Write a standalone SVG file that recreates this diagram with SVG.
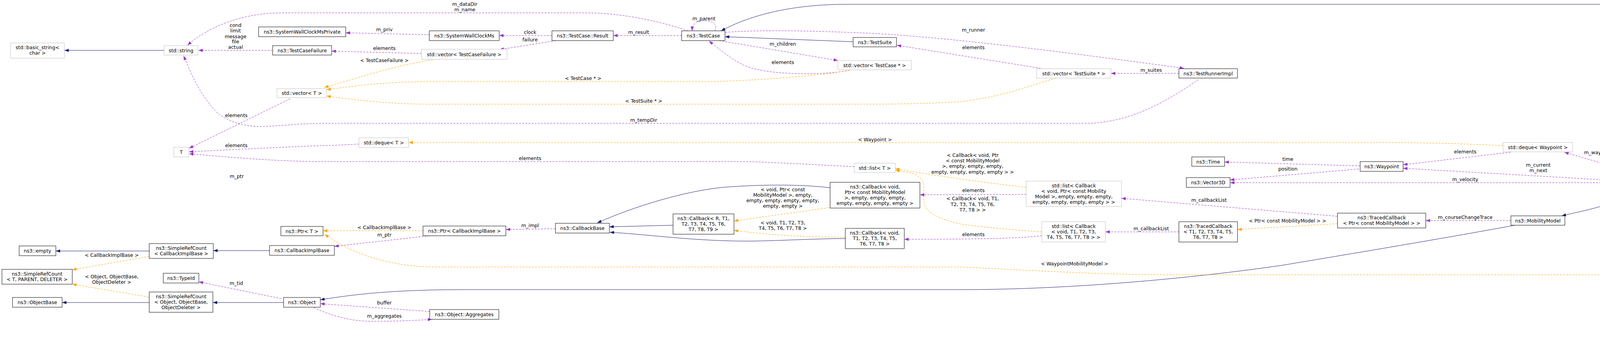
<svg xmlns="http://www.w3.org/2000/svg" width="4931" height="871" viewBox="0 0 4931 871">
<style>
text{font-family:"DejaVu Sans","Liberation Sans",sans-serif;font-size:12.4px;fill:#000;text-anchor:middle}
.b rect{fill:#fff;stroke:#000;stroke-width:1}
.g rect{fill:#fff;stroke:#bfbfbf;stroke-width:1}
.h rect{fill:#bfbfbf;stroke:#000;stroke-width:1}
.e path{fill:none;stroke-width:1}
.e .n{stroke:#191970;marker-end:url(#mn)}
.e .p{stroke:#9a32cd;stroke-dasharray:5,3;marker-end:url(#mp)}
.e .o{stroke:#ffa500;stroke-dasharray:5,3;marker-end:url(#mo)}
</style>
<defs>
<marker id="mn" markerUnits="userSpaceOnUse" markerWidth="11" markerHeight="8" refX="11" refY="4" orient="auto"><path d="M0,0L11,4L0,8z" fill="#191970"/></marker>
<marker id="mp" markerUnits="userSpaceOnUse" markerWidth="11" markerHeight="8" refX="11" refY="4" orient="auto"><path d="M0,0L11,4L0,8z" fill="#9a32cd"/></marker>
<marker id="mo" markerUnits="userSpaceOnUse" markerWidth="11" markerHeight="8" refX="11" refY="4" orient="auto"><path d="M0,0L11,4L0,8z" fill="#ffa500"/></marker>
</defs>
<rect width="4931" height="871" fill="#fff"/>
<g id="edges" class="e">
<path class="n" d="M420,129 L165,129"/>
<path class="p" d="M1762,79 C1700,58 1600,33 1500,33 L720,33 C620,33 530,70 480,116"/>
<path class="p" d="M698,129 L508,129"/>
<path class="p" d="M1099,89 L885,84"/>
<path class="p" d="M1079,137 L849,131"/>
<path class="p" d="M1413,91 L1278,91"/>
<path class="p" d="M1423,104 L1279,127"/>
<path class="p" d="M1745,91 L1570,91"/>
<path class="p" d="M1830,79 C1838,60 1822,53 1800,53 C1782,53 1772,62 1772,79"/>
<path class="n" d="M2184,107 L1856,94"/>
<path class="p" d="M1841,104 L2145,155"/>
<path class="p" d="M2175,180 C2100,195 1950,192 1900,165 C1870,150 1840,125 1815,105"/>
<path class="o" d="M2175,180 C2100,195 1900,209 1800,209 L1100,209 C1000,209 900,220 836,230"/>
<path class="o" d="M2703,200 C2620,225 2560,249 2460,260 C2400,265 2300,267 2200,267 L1100,267 C1000,267 900,255 836,246"/>
<path class="o" d="M1108,153 C1000,170 900,205 830,224"/>
<path class="p" d="M743,253 L484,380"/>
<path class="p" d="M1857,83 C1950,75 2100,80 2200,84 C2400,92 2700,130 3031,175"/>
<path class="p" d="M2664,175 L2296,116"/>
<path class="p" d="M3018,188 L2844,188"/>
<path class="p" d="M3068,204 C3000,250 2900,316 2777,316 L830,316 C760,316 700,325 656,324 C600,320 570,300 555,288 C510,240 490,190 470,143"/>
<path class="p" d="M919,369 C880,371 850,373 820,373 C700,378 560,385 484,389"/>
<path class="o" d="M3848,373 C3700,366 3600,365 3500,365 L1046,365"/>
<path class="p" d="M2187,427 C2050,420 1950,414 1900,414 L830,414 C700,414 560,400 484,394"/>
<path class="o" d="M2627,480 C2500,465 2380,448 2292,432"/>
<path class="o" d="M2667,594 C2600,590 2500,580 2460,574 C2400,560 2365,545 2365,510 C2365,475 2370,460 2340,445 L2292,436"/>
<path class="p" d="M2627,498 L2355,499"/>
<path class="p" d="M2667,604 C2600,612 2450,613 2315,613"/>
<path class="n" d="M2125,481 C2050,472 1950,472 1850,480 C1750,490 1620,530 1529,571"/>
<path class="n" d="M1723,577 L1560,581"/>
<path class="n" d="M2164,611 C2050,612 1950,620 1867,617 C1750,614 1650,600 1561,595"/>
<path class="o" d="M2122,532 L1879,566"/>
<path class="o" d="M2164,608 C2050,607 1950,600 1879,590"/>
<path class="p" d="M1422,586 L1295,588"/>
<path class="o" d="M1083,591 L827,591"/>
<path class="p" d="M1100,604 L856,631"/>
<path class="n" d="M690,642 L546,642"/>
<path class="n" d="M382,643 L143,643"/>
<path class="o" d="M382,657 L185,691"/>
<path class="o" d="M381,761 L185,728"/>
<path class="n" d="M382,775 L159,775"/>
<path class="n" d="M726,775 L545,775"/>
<path class="p" d="M720,765 L509,722"/>
<path class="p" d="M1100,798 L820,778"/>
<path class="p" d="M804,788 C850,810 900,823 950,823 C1000,823 1050,822 1106,818"/>
<path class="n" d="M3878,577 C3700,610 3400,660 3280,680 C3000,720 2700,742 2460,742 L1190,742 C1000,742 900,755 820,768"/>
<path class="n" d="M4230,482 C4190,500 4150,515 4100,528 C4060,540 4030,545 3998,553"/>
<path class="p" d="M3868,565 L3650,565"/>
<path class="o" d="M3424,573 L3168,588"/>
<path class="p" d="M3423,554 L2871,508"/>
<path class="p" d="M3018,594 L2830,594"/>
<path class="p" d="M3482,425 L3135,415"/>
<path class="p" d="M3478,433 L3149,461"/>
<path class="p" d="M4163,468 L3149,468"/>
<path class="p" d="M4163,464 L3592,431"/>
<path class="p" d="M3867,390 L3592,422"/>
<path class="p" d="M4230,456 L4005,390"/>
<path class="p" d="M4450,470 L4359,470"/>
<path class="o" d="M4530,495 C4490,560 4420,704 4275,704 L3000,704 C2800,704 2600,690 2460,684 L1116,684 C1000,684 900,650 831,600"/>
<path class="p" d="M4817,169 L4566,450"/>
<path class="n" d="M4812,129 C4740,70 4650,11 4555,11 L2169,11 C2000,11 1900,50 1846,79"/>
</g>
<g id="edge-labels">
<text x="1190" y="15">m_dataDir</text><text x="1190" y="29">m_name</text>
<text x="603" y="69">cond</text><text x="603" y="83">limit</text><text x="603" y="98">message</text><text x="603" y="111">file</text><text x="603" y="125">actual</text>
<text x="984" y="80">m_priv</text>
<text x="984" y="128">elements</text>
<text x="1357" y="87">clock</text>
<text x="1357" y="106">failure</text>
<text x="1635" y="87">m_result</text>
<text x="1802" y="52">m_parent</text>
<text x="2004" y="117">m_children</text>
<text x="2004" y="164">elements</text>
<text x="1493" y="205">&lt; TestCase * &gt;</text>
<text x="1648" y="263">&lt; TestSuite * &gt;</text>
<text x="984" y="159">&lt; TestCaseFailure &gt;</text>
<text x="605" y="300">elements</text>
<text x="2492" y="81">m_runner</text>
<text x="2492" y="126">elements</text>
<text x="2947" y="184">m_suites</text>
<text x="1648" y="312">m_tempDir</text>
<text x="605" y="377">elements</text>
<text x="2240" y="362">&lt; Waypoint &gt;</text>
<text x="1357" y="410">elements</text>
<text x="2490" y="402">&lt; Callback&lt; void, Ptr</text><text x="2490" y="416">&lt; const MobilityModel</text><text x="2490" y="430">&gt;, empty, empty, empty,</text><text x="2490" y="445">empty, empty, empty, empty &gt; &gt;</text>
<text x="2490" y="513">&lt; Callback&lt; void, T1,</text><text x="2490" y="528">T2, T3, T4, T5, T6,</text><text x="2490" y="542">T7, T8 &gt; &gt;</text>
<text x="2492" y="492">elements</text>
<text x="2492" y="605">elements</text>
<text x="2004" y="490">&lt; void, Ptr&lt; const</text><text x="2004" y="504">MobilityModel &gt;, empty,</text><text x="2004" y="518">empty, empty, empty, empty,</text><text x="2004" y="532">empty, empty &gt;</text>
<text x="2004" y="575">&lt; void, T1, T2, T3,</text><text x="2004" y="589">T4, T5, T6, T7, T8 &gt;</text>
<text x="1357" y="582">m_impl</text>
<text x="984" y="587">&lt; CallbackImplBase &gt;</text>
<text x="984" y="606">m_ptr</text>
<text x="286" y="658">&lt; CallbackImplBase &gt;</text>
<text x="286" y="713">&lt; Object, ObjectBase,</text><text x="286" y="727">ObjectDeleter &gt;</text>
<text x="605" y="730">m_tid</text>
<text x="984" y="780">buffer</text>
<text x="984" y="814">m_aggregates</text>
<text x="3751" y="561">m_courseChangeTrace</text>
<text x="3296" y="570">&lt; Ptr&lt; const MobilityModel &gt; &gt;</text>
<text x="3095" y="517">m_callbackList</text>
<text x="2947" y="590">m_callbackList</text>
<text x="3297" y="412">time</text>
<text x="3297" y="437">position</text>
<text x="3751" y="464">m_velocity</text>
<text x="3938" y="427">m_current</text><text x="3938" y="441">m_next</text>
<text x="3751" y="393">elements</text>
<text x="4096" y="395">m_waypoints</text>
<text x="4406" y="465">m_ptr</text>
<text x="2751" y="680">&lt; WaypointMobilityModel &gt;</text>
<text x="4697" y="210">m_mob1</text><text x="4697" y="225">m_mob2</text><text x="4697" y="238">m_mob3</text><text x="4697" y="252">m_mob4</text><text x="4697" y="266">m_mob5</text>
<text x="606" y="456">m_ptr</text>
</g>
<g id="n1" class="g"><rect x="27" y="110" width="138" height="39"/><text x="96" y="126">std::basic_string&lt;</text><text x="96" y="140">char &gt;</text></g>
<g id="n2" class="g"><rect x="420" y="117" width="87" height="24"/><text x="463.5" y="133.5">std::string</text></g>
<g id="n3" class="b"><rect x="662" y="69" width="223" height="25"/><text x="773.5" y="86">ns3::SystemWallClockMsPrivate</text></g>
<g id="n4" class="b"><rect x="698" y="117" width="151" height="24"/><text x="773.5" y="133.5">ns3::TestCaseFailure</text></g>
<g id="n5" class="g"><rect x="709" y="227" width="127" height="23"/><text x="772.5" y="243">std::vector&lt; T &gt;</text></g>
<g id="n6" class="g"><rect x="445" y="377" width="38" height="25"/><text x="464" y="394">T</text></g>
<g id="n7" class="b"><rect x="719" y="580" width="108" height="24"/><text x="773" y="596.5">ns3::Ptr&lt; T &gt;</text></g>
<g id="n8" class="b"><rect x="49" y="630" width="94" height="25"/><text x="96" y="647">ns3::empty</text></g>
<g id="n9" class="b"><rect x="382" y="624" width="164" height="38"/><text x="464" y="640">ns3::SimpleRefCount</text><text x="464" y="654">&lt; CallbackImplBase &gt;</text></g>
<g id="n10" class="b"><rect x="690" y="629" width="166" height="25"/><text x="773" y="646">ns3::CallbackImplBase</text></g>
<g id="n11" class="b"><rect x="5" y="690" width="180" height="38"/><text x="95" y="706">ns3::SimpleRefCount</text><text x="95" y="720">&lt; T, PARENT, DELETER &gt;</text></g>
<g id="n12" class="b"><rect x="418" y="700" width="91" height="25"/><text x="463.5" y="717">ns3::TypeId</text></g>
<g id="n13" class="b"><rect x="32" y="762" width="127" height="25"/><text x="95.5" y="779">ns3::ObjectBase</text></g>
<g id="n14" class="b"><rect x="382" y="748" width="163" height="52"/><text x="463.5" y="764">ns3::SimpleRefCount</text><text x="463.5" y="778">&lt; Object, ObjectBase,</text><text x="463.5" y="792">ObjectDeleter &gt;</text></g>
<g id="n15" class="b"><rect x="726" y="762" width="94" height="25"/><text x="773" y="779">ns3::Object</text></g>
<g id="n16" class="b"><rect x="1099" y="79" width="179" height="25"/><text x="1188.5" y="96">ns3::SystemWallClockMs</text></g>
<g id="n17" class="b"><rect x="1413" y="79" width="157" height="25"/><text x="1491.5" y="96">ns3::TestCase::Result</text></g>
<g id="n18" class="g"><rect x="1079" y="126" width="219" height="26"/><text x="1188.5" y="143.5">std::vector&lt; TestCaseFailure &gt;</text></g>
<g id="n19" class="g"><rect x="919" y="353" width="127" height="25"/><text x="982.5" y="370">std::deque&lt; T &gt;</text></g>
<g id="n20" class="b"><rect x="1083" y="579" width="212" height="25"/><text x="1189" y="596">ns3::Ptr&lt; CallbackImplBase &gt;</text></g>
<g id="n21" class="b"><rect x="1422" y="572" width="138" height="25"/><text x="1491" y="589">ns3::CallbackBase</text></g>
<g id="n22" class="b"><rect x="1100" y="793" width="177" height="25"/><text x="1188.5" y="810">ns3::Object::Aggregates</text></g>
<g id="n23" class="b"><rect x="1745" y="79" width="111" height="25"/><text x="1800.5" y="96">ns3::TestCase</text></g>
<g id="n24" class="b"><rect x="2184" y="96" width="111" height="24"/><text x="2239.5" y="112.5">ns3::TestSuite</text></g>
<g id="n25" class="g"><rect x="2145" y="155" width="188" height="24"/><text x="2239" y="171.5">std::vector&lt; TestCase * &gt;</text></g>
<g id="n26" class="g"><rect x="2187" y="418" width="105" height="24"/><text x="2239.5" y="434.5">std::list&lt; T &gt;</text></g>
<g id="n27" class="b"><rect x="2125" y="467" width="230" height="66"/><text x="2240" y="483">ns3::Callback&lt; void,</text><text x="2240" y="497">Ptr&lt; const MobilityModel</text><text x="2240" y="511">&gt;, empty, empty, empty,</text><text x="2240" y="525">empty, empty, empty, empty &gt;</text></g>
<g id="n28" class="b"><rect x="1723" y="548" width="156" height="52"/><text x="1801" y="564">ns3::Callback&lt; R, T1,</text><text x="1801" y="578">T2, T3, T4, T5, T6,</text><text x="1801" y="592">T7, T8, T9 &gt;</text></g>
<g id="n29" class="b"><rect x="2164" y="585" width="151" height="52"/><text x="2239.5" y="601">ns3::Callback&lt; void,</text><text x="2239.5" y="615">T1, T2, T3, T4, T5,</text><text x="2239.5" y="629">T6, T7, T8 &gt;</text></g>
<g id="n30" class="g"><rect x="2654" y="176" width="190" height="24"/><text x="2749" y="192.5">std::vector&lt; TestSuite * &gt;</text></g>
<g id="n31" class="b"><rect x="3018" y="176" width="150" height="24"/><text x="3093" y="192.5">ns3::TestRunnerImpl</text></g>
<g id="n32" class="b"><rect x="3051" y="402" width="84" height="24"/><text x="3093" y="418.5">ns3::Time</text></g>
<g id="n33" class="b"><rect x="3037" y="455" width="112" height="25"/><text x="3093" y="472">ns3::Vector3D</text></g>
<g id="n34" class="g"><rect x="2627" y="464" width="244" height="65"/><text x="2749" y="480">std::list&lt; Callback</text><text x="2749" y="494">&lt; void, Ptr&lt; const Mobility</text><text x="2749" y="508">Model &gt;, empty, empty, empty,</text><text x="2749" y="522">empty, empty, empty, empty &gt; &gt;</text></g>
<g id="n35" class="g"><rect x="2667" y="568" width="163" height="52"/><text x="2748.5" y="584">std::list&lt; Callback</text><text x="2748.5" y="598">&lt; void, T1, T2, T3,</text><text x="2748.5" y="612">T4, T5, T6, T7, T8 &gt; &gt;</text></g>
<g id="n36" class="b"><rect x="3018" y="568" width="150" height="52"/><text x="3093" y="584">ns3::TracedCallback</text><text x="3093" y="598">&lt; T1, T2, T3, T4, T5,</text><text x="3093" y="612">T6, T7, T8 &gt;</text></g>
<g id="n37" class="g"><rect x="3848" y="365" width="178" height="24"/><text x="3937" y="381.5">std::deque&lt; Waypoint &gt;</text></g>
<g id="n38" class="b"><rect x="3482" y="414" width="110" height="25"/><text x="3537" y="431">ns3::Waypoint</text></g>
<g id="n39" class="b"><rect x="3424" y="546" width="226" height="38"/><text x="3537" y="562">ns3::TracedCallback</text><text x="3537" y="576">&lt; Ptr&lt; const MobilityModel &gt; &gt;</text></g>
<g id="n40" class="b"><rect x="3868" y="553" width="138" height="24"/><text x="3937" y="569.5">ns3::MobilityModel</text></g>
<g id="n41" class="h"><rect x="4751" y="129" width="173" height="39"/><text x="4837.5" y="145">WaypointInitialPositionIs</text><text x="4837.5" y="159">Waypoint</text></g>
<g id="n42" class="b"><rect x="4163" y="457" width="196" height="25"/><text x="4261" y="474">ns3::WaypointMobilityModel</text></g>
<g id="n43" class="b"><rect x="4450" y="450" width="191" height="39"/><text x="4545.5" y="466">ns3::Ptr&lt; WaypointMobility</text><text x="4545.5" y="480">Model &gt;</text></g>
</svg>
